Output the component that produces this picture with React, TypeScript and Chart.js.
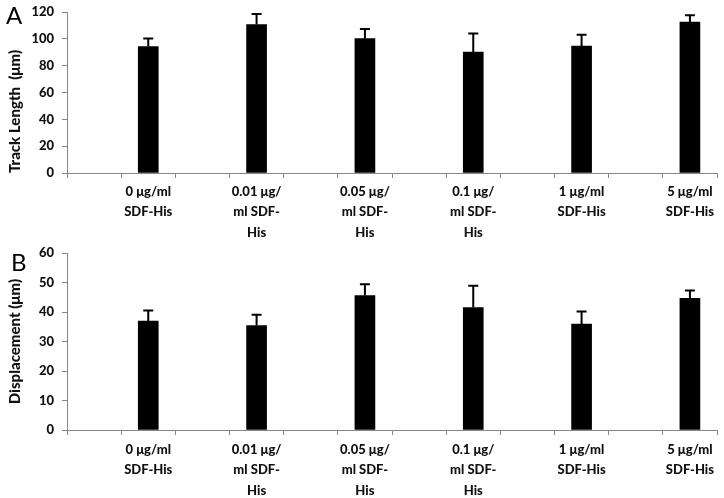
import React, { useEffect, useRef } from 'react';
import { Chart, registerables } from 'chart.js';

Chart.register(...registerables);

// ---- data ----
const concentrations: (string | string[])[] = [
  ['0 μg/ml', 'SDF-His'],
  ['0.01 μg/', 'ml SDF-', 'His'],
  ['0.05 μg/', 'ml SDF-', 'His'],
  ['0.1 μg/', 'ml SDF-', 'His'],
  ['1 μg/ml', 'SDF-His'],
  ['5 μg/ml', 'SDF-His'],
];
const trackLength = [94.3, 110.6, 100.1, 90.2, 94.6, 112.5];
const trackLengthErr = [6.0, 7.9, 7.2, 13.7, 8.5, 5.0];
const displacement = [36.9, 35.4, 45.6, 41.5, 35.9, 44.6];
const displacementErr = [3.6, 3.7, 3.8, 7.4, 4.3, 2.7];
const trackAxis = { max: 120, step: 20, title: 'Track Length  (μm)' };
const dispAxis = { max: 60, step: 10, title: 'Displacement (μm)' };

// Excel-style category axis: an empty slot before every labelled bar
function spacedLabels(labels: (string | string[])[]) {
  const out: (string | string[])[] = [];
  labels.forEach((l) => { out.push(''); out.push(l); });
  return out;
}
function spacedValues(vals: number[]) {
  const out: (number | null)[] = [];
  vals.forEach((v) => { out.push(null); out.push(v); });
  return out;
}

const AXIS = '#868686';
const FONT = 'Lato, "Open Sans", sans-serif';

const errorBarPlugin = {
  id: 'errorBars',
  afterDatasetsDraw(chart: any, _args: any, opts: any) {
    const errs: (number | null)[] = opts.errors || [];
    const meta = chart.getDatasetMeta(0);
    const ys = chart.scales.y;
    const data = chart.data.datasets[0].data;
    const ctx = chart.ctx;
    ctx.save();
    ctx.strokeStyle = '#000';
    ctx.lineWidth = 2;
    meta.data.forEach((bar: any, i: number) => {
      const v = data[i];
      const e = errs[i];
      if (v == null || e == null) return;
      const top = ys.getPixelForValue(v + e);
      ctx.beginPath();
      ctx.moveTo(bar.x, bar.y);
      ctx.lineTo(bar.x, top);
      ctx.moveTo(bar.x - 5, top);
      ctx.lineTo(bar.x + 5, top);
      ctx.stroke();
    });
    ctx.restore();
  },
};

const panelLetterPlugin = {
  id: 'panelLetter',
  afterDraw(chart: any, _args: any, opts: any) {
    if (!opts.text) return;
    const ctx = chart.ctx;
    ctx.save();
    ctx.fillStyle = '#000';
    ctx.font = `24px ${FONT}`;
    ctx.textBaseline = 'alphabetic';
    ctx.textAlign = 'left';
    ctx.fillText(opts.text, opts.x, opts.y);
    ctx.restore();
  },
};

type PanelProps = {
  width: number;
  height: number;
  values: number[];
  errors: number[];
  axis: { max: number; step: number; title: string };
  padTop: number;
  xHeight: number;
  xPad: number;
  letter: string;
  letterX: number;
  letterY: number;
  titleAlign: 'start' | 'center' | 'end';
};

function BarPanel(p: PanelProps) {
  const ref = useRef<HTMLCanvasElement>(null);
  useEffect(() => {
    if (!ref.current) return;
    const tickFont = { family: FONT, weight: 900 as any, size: 13, lineHeight: 1.55 };
    const chart = new Chart(ref.current, {
      type: 'bar',
      data: {
        labels: spacedLabels(concentrations),
        datasets: [
          {
            data: spacedValues(p.values),
            backgroundColor: '#000',
            borderWidth: 0,
            barThickness: 20,
          },
        ],
      },
      options: {
        responsive: false,
        maintainAspectRatio: false,
        animation: false,
        layout: { padding: { top: p.padTop, right: 7, left: 0, bottom: 0 } },
        plugins: {
          legend: { display: false },
          tooltip: { enabled: false },
          errorBars: { errors: spacedValues(p.errors) },
          panelLetter: { text: p.letter, x: p.letterX, y: p.letterY },
        } as any,
        scales: {
          x: {
            type: 'category',
            offset: true,
            grid: { offset: true, drawOnChartArea: false, tickLength: 5, color: AXIS, lineWidth: 1 },
            border: { color: AXIS, width: 1 },
            ticks: {
              autoSkip: false,
              maxRotation: 0,
              minRotation: 0,
              padding: p.xPad,
              color: '#111',
              font: tickFont,
            },
            afterFit: (s: any) => { s.height = p.xHeight; s.paddingLeft = 0; s.paddingRight = 0; },
          },
          y: {
            min: 0,
            max: p.axis.max,
            ticks: { stepSize: p.axis.step, padding: 8, color: '#111', font: tickFont },
            grid: { drawOnChartArea: false, tickLength: 5, color: AXIS, lineWidth: 1 },
            border: { color: AXIS, width: 1 },
            title: {
              display: true,
              text: p.axis.title,
              color: '#111',
              align: p.titleAlign,
              font: { family: FONT, weight: 900 as any, size: 15 },
              padding: { top: 6, bottom: 0 },
            },
            afterFit: (s: any) => { s.width = 67; s.paddingTop = 0; s.paddingBottom = 0; },
          },
        },
      },
      plugins: [errorBarPlugin, panelLetterPlugin],
    });
    return () => chart.destroy();
  }, []);
  return <canvas ref={ref} width={p.width} height={p.height} style={{ display: 'block' }} />;
}

export default function App() {
  return (
    <div style={{ position: 'absolute', left: 0, top: 0, width: 724, height: 498, background: '#fff' }}>
      <BarPanel
        width={724}
        height={242}
        values={trackLength}
        errors={trackLengthErr}
        axis={trackAxis}
        padTop={12}
        xHeight={69}
        xPad={4}
        letter="A"
        letterX={6}
        letterY={24}
        titleAlign="start"
      />
      <BarPanel
        width={724}
        height={256}
        values={displacement}
        errors={displacementErr}
        axis={dispAxis}
        padTop={11}
        xHeight={68}
        xPad={5}
        letter="B"
        letterX={11}
        letterY={29}
        titleAlign="center"
      />
    </div>
  );
}
